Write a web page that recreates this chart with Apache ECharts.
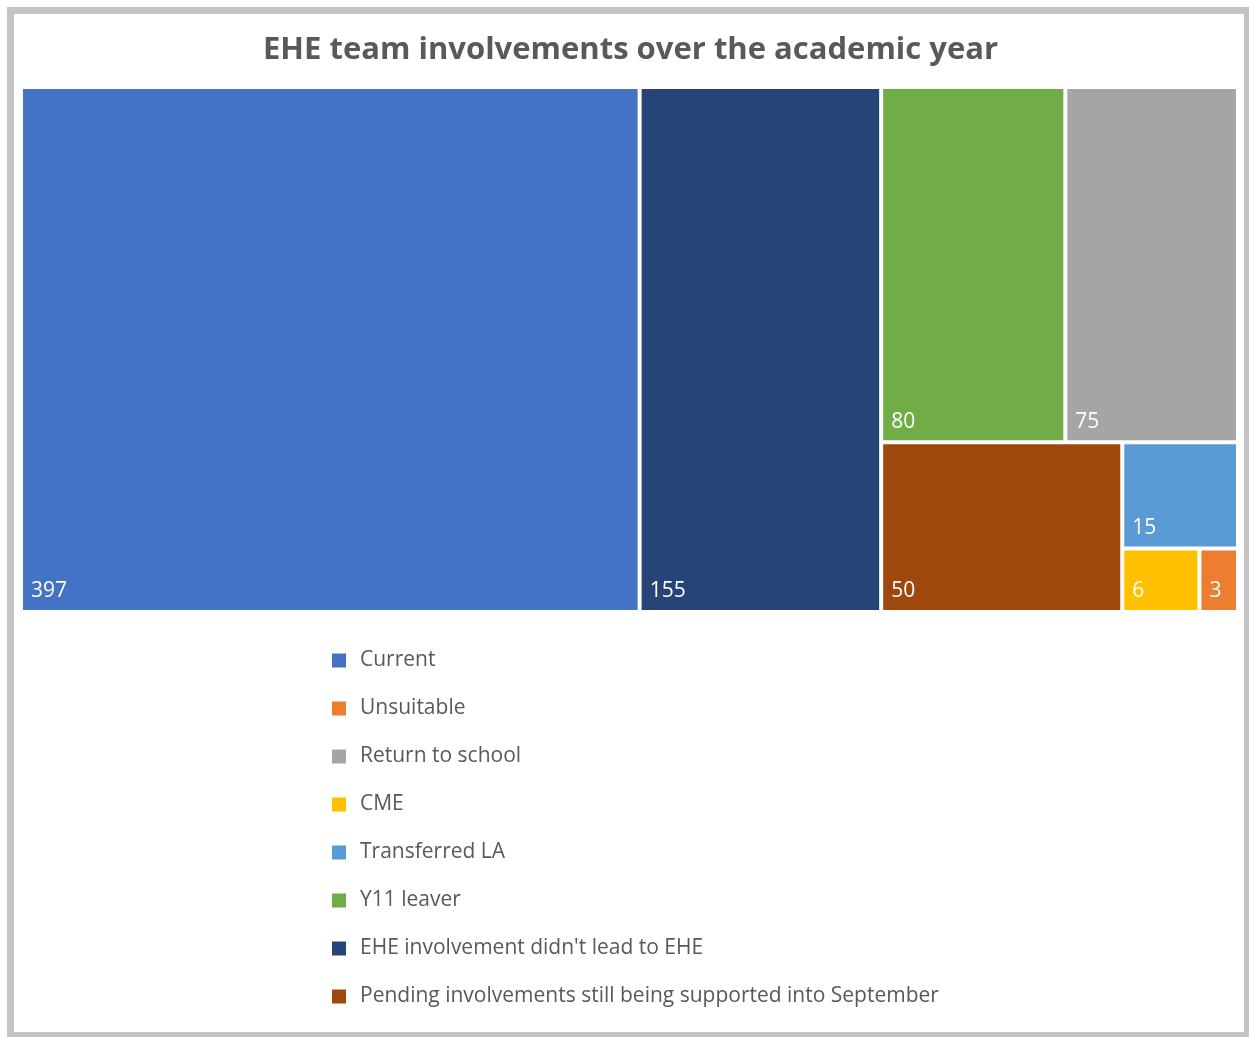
<!DOCTYPE html>
<html>
<head>
<meta charset="utf-8">
<script src="https://cdn.jsdelivr.net/npm/echarts@6/dist/echarts.min.js"></script>
<style>
  html, body { margin: 0; padding: 0; background: #fff; }
  #chart { position: absolute; left: 0; top: 0; width: 1249px; height: 1037px; }
  #frame { position: absolute; left: 7px; top: 7px; width: 1244px; height: 1032px;
           border: 7px solid #c4c4c4; box-sizing: border-box; pointer-events: none; }
</style>
</head>
<body>
<div id="chart"></div>
<div id="frame"></div>
<script>
// Involvement outcomes, in legend order
const categories = [
  'Current',
  'Unsuitable',
  'Return to school',
  'CME',
  'Transferred LA',
  'Y11 leaver',
  "EHE involvement didn't lead to EHE",
  'Pending involvements still being supported into September'
];
const values = [397, 3, 75, 6, 15, 80, 155, 50];
const palette = ['#4472C4', '#ED7D31', '#A5A5A5', '#FFC000', '#5B9BD5', '#70AD47', '#264478', '#9E480E'];

// Tile nesting (indices into categories): two full-height tiles, then a block
// split into an upper band and a lower band.
const tileNesting = [0, 6, [[5, 2], [7, 4, 3, 1]]];

const FONT = '"Open Sans", "Noto Sans", sans-serif';

function buildNode(n) {
  if (typeof n === 'number') {
    return { name: categories[n], value: values[n], itemStyle: { color: palette[n] } };
  }
  return { name: '', children: n.map(buildNode) };
}
const treeData = tileNesting.map(buildNode);

const chart = echarts.init(document.getElementById('chart'), null, { renderer: 'canvas' });

// empty series that only feed the legend entries
const legendSeries = categories.map((c, i) => ({
  type: 'bar',
  name: c,
  data: [],
  itemStyle: { color: palette[i] },
  silent: true
}));

chart.setOption({
  animation: false,
  backgroundColor: '#fff',
  title: {
    text: 'EHE team involvements over the academic year',
    left: 263,
    top: 35,
    padding: 0,
    textStyle: { fontSize: 31, fontWeight: 'bold', color: '#595959', fontFamily: FONT }
  },
  legend: {
    orient: 'vertical',
    left: 332,
    top: 650,
    padding: 0,
    icon: 'rect',
    itemWidth: 14,
    itemHeight: 14,
    itemGap: 27,
    selectedMode: false,
    data: categories,
    textStyle: { fontSize: 21, lineHeight: 21, color: '#595959', fontFamily: FONT, padding: [0, 0, 0, 9] }
  },
  grid: { show: false, left: 0, top: 0, width: 1, height: 1 },
  xAxis: { type: 'category', show: false, data: [] },
  yAxis: { type: 'value', show: false },
  series: [
    {
      type: 'treemap',
      left: 23,
      top: 89,
      width: 1213,
      height: 521,
      sort: false,
      squareRatio: 1,
      roam: false,
      nodeClick: false,
      breadcrumb: { show: false },
      itemStyle: { borderWidth: 0, gapWidth: 4, borderColor: '#fff' },
      upperLabel: { show: false },
      label: {
        show: true,
        position: 'insideBottomLeft',
        distance: 3,
        color: '#fff',
        fontSize: 21,
        fontFamily: FONT,
        formatter: p => p.value
      },
      emphasis: { disabled: true },
      data: treeData
    },
    ...legendSeries
  ]
});
</script>
</body>
</html>
